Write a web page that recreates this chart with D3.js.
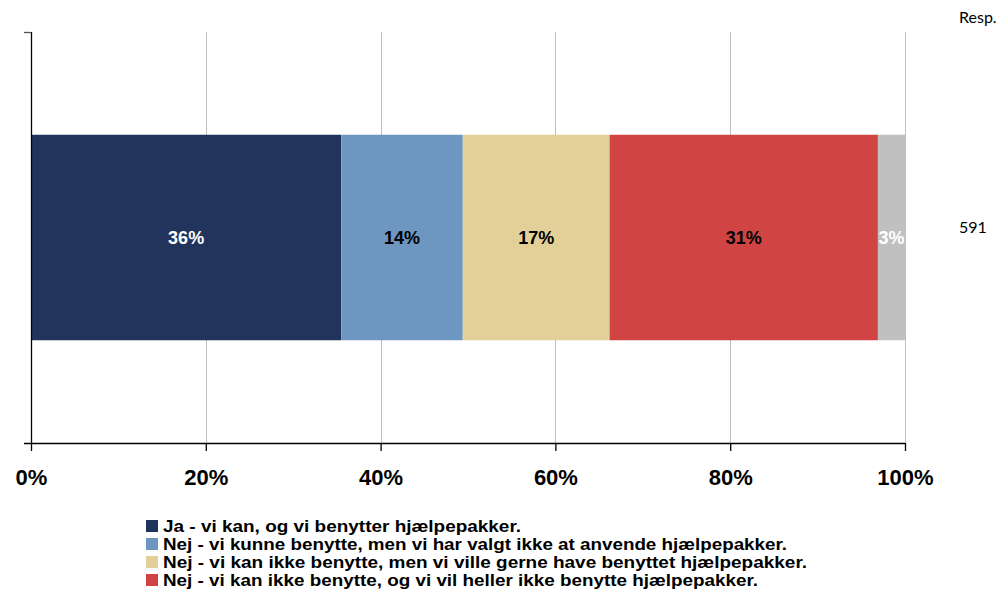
<!DOCTYPE html>
<html>
<head>
<meta charset="utf-8">
<script src="https://cdn.jsdelivr.net/npm/d3@7"></script>
<style>
  body { margin: 0; background: #fff; }
  svg { display: block; }
</style>
</head>
<body>
<div id="chart"></div>
<script>
// data
var categories = [
  "Ja - vi kan, og vi benytter hjælpepakker.",
  "Nej - vi kunne benytte, men vi har valgt ikke at anvende hjælpepakker.",
  "Nej - vi kan ikke benytte, men vi ville gerne have benyttet hjælpepakker.",
  "Nej - vi kan ikke benytte, og vi vil heller ikke benytte hjælpepakker.",
  "Ved ikke"
];
var values = [35.5, 13.9, 16.8, 30.7, 3.1];
var labels = ["36%", "14%", "17%", "31%", "3%"];
var colors = ["#21345c", "#6d96c0", "#e3d098", "#d04444", "#c0c0c0"];
var labelColors = ["#fff", "#000", "#000", "#000", "#fff"];
var xTicks = [0, 20, 40, 60, 80, 100];
var respCount = 591;

var W = 1003, H = 591;
var margin = {top: 32, left: 31, right: 98, bottom: 148};
var width = W - margin.left - margin.right,
    height = H - margin.top - margin.bottom;

var svg = d3.select("#chart").append("svg")
  .attr("width", W).attr("height", H);

var g = svg.append("g")
  .attr("transform", "translate(" + margin.left + "," + margin.top + ")");

var x = d3.scaleLinear().domain([0, 100]).range([0, width]);
var y = d3.scaleBand().domain(["row"]).range([0, height]).paddingInner(0).paddingOuter(0.5);

// gridlines
g.selectAll("line.grid")
  .data(xTicks.slice(1))
  .enter().append("line")
    .attr("class", "grid")
    .attr("x1", function(d) { return Math.round(x(d)) + 0.5; })
    .attr("x2", function(d) { return Math.round(x(d)) + 0.5; })
    .attr("y1", 0).attr("y2", height)
    .attr("stroke", "#c0c0c0").attr("stroke-width", 1);

// stacked segments
var starts = [];
var acc = 0;
values.forEach(function(v) { starts.push(acc); acc += v; });

g.selectAll("rect.seg")
  .data(values)
  .enter().append("rect")
    .attr("class", "seg")
    .attr("x", function(d, i) { return x(starts[i]); })
    .attr("width", function(d, i) { return x(starts[i] + d) - x(starts[i]); })
    .attr("y", y("row"))
    .attr("height", y.bandwidth())
    .attr("fill", function(d, i) { return colors[i]; });

g.selectAll("text.val")
  .data(values)
  .enter().append("text")
    .attr("class", "val")
    .attr("x", function(d, i) { return x(starts[i] + d / 2); })
    .attr("y", y("row") + y.bandwidth() / 2)
    .attr("dy", "0.35em")
    .attr("text-anchor", "middle")
    .style("font-family", "'Liberation Sans', Arial, sans-serif")
    .style("font-weight", "bold")
    .style("font-size", "18px")
    .attr("fill", function(d, i) { return labelColors[i]; })
    .text(function(d, i) { return labels[i]; });

// left axis line with edge ticks
g.append("line")
  .attr("x1", 0.5).attr("x2", 0.5).attr("y1", 0).attr("y2", height)
  .attr("stroke", "#000").attr("stroke-width", 1.3);
g.append("line")
  .attr("x1", -7).attr("x2", 0).attr("y1", 0.5).attr("y2", 0.5)
  .attr("stroke", "#555").attr("stroke-width", 1.3);

// bottom axis
var xAxis = d3.axisBottom(x)
  .tickValues(xTicks)
  .tickFormat(function(d) { return d + "%"; })
  .tickSizeInner(8).tickSizeOuter(0);

var ax = g.append("g")
  .attr("transform", "translate(0," + height + ")")
  .call(xAxis);
ax.select(".domain").remove();
ax.append("line")
  .attr("x1", -7).attr("x2", width).attr("y1", 0.5).attr("y2", 0.5)
  .attr("stroke", "#000").attr("stroke-width", 1.3);
ax.selectAll(".tick line").attr("stroke", "#000").attr("stroke-width", 1.3);
ax.selectAll(".tick text")
  .attr("y", 42).attr("dy", 0)
  .attr("fill", "#000")
  .style("font-family", "'Liberation Sans', Arial, sans-serif")
  .style("font-weight", "bold")
  .style("font-size", "22px");

// legend (first four categories)
var legend = svg.append("g").attr("transform", "translate(146,532)");
var legItems = legend.selectAll("g.item")
  .data(categories.slice(0, 4))
  .enter().append("g")
    .attr("class", "item")
    .attr("transform", function(d, i) { return "translate(0," + (i * 18) + ")"; });
legItems.append("rect")
  .attr("x", 0).attr("y", -12).attr("width", 12).attr("height", 12)
  .attr("fill", function(d, i) { return colors[i]; });
legItems.append("text")
  .attr("x", 17).attr("y", 0)
  .style("font-family", "'Liberation Sans', Arial, sans-serif")
  .style("font-weight", "bold")
  .style("font-size", "17px")
  .attr("fill", "#000")
  .text(function(d) { return d; })
  .each(function(d, i) {
    // the original font is narrower than Arial bold; squeeze to match
    var fullW = [358, 624, 644, 595][i];
    d3.select(this).attr("textLength", fullW).attr("lengthAdjust", "spacingAndGlyphs");
  });

// response count column
svg.append("text")
  .attr("x", 959).attr("y", 23)
  .style("font-family", "'Lato', 'DejaVu Sans', sans-serif")
  .style("font-size", "16px")
  .attr("fill", "#000")
  .text("Resp.");
svg.append("text")
  .attr("x", 959).attr("y", 233)
  .style("font-family", "'Lato', 'DejaVu Sans', sans-serif")
  .style("font-size", "16px")
  .attr("fill", "#000")
  .text(respCount);
</script>
</body>
</html>
